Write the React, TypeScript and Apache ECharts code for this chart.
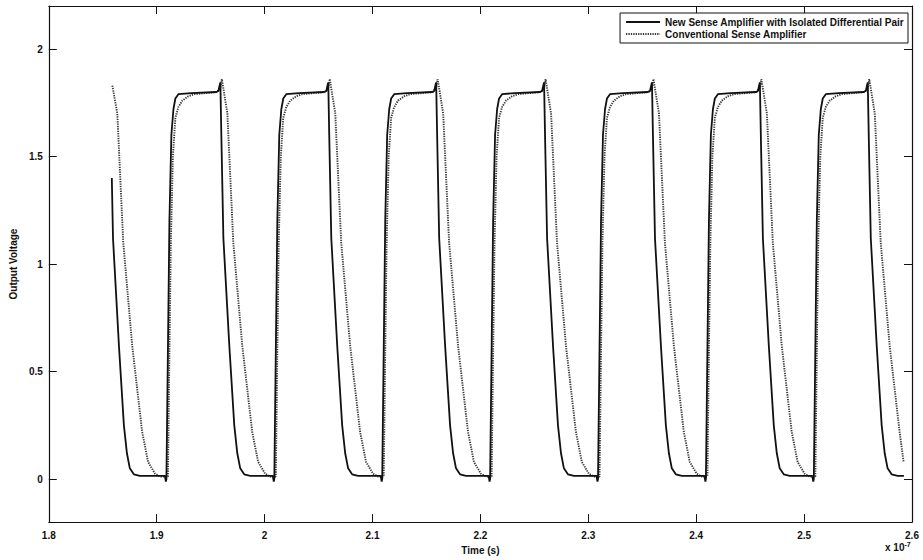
import React, { useEffect, useRef } from "react";
import * as echarts from "echarts";

// Time axis in units of 1e-7 s, voltage in V
const xTicks = [1.8, 1.9, 2.0, 2.1, 2.2, 2.3, 2.4, 2.5, 2.6];
const yTicks = [0, 0.5, 1, 1.5, 2];

const seriesNames = [
  "New Sense Amplifier with Isolated Differential Pair",
  "Conventional Sense Amplifier",
];

// New sense amplifier (solid line)
const newSenseStart: number[][] = [
  [1.8584, 1.4], [1.8595, 1.12], [1.865, 0.62], [1.8696, 0.25], [1.8724, 0.12],
  [1.8751, 0.05], [1.8788, 0.022], [1.8844, 0.015],
];
const newSenseCycles: number[][][] = [
  [[1.9076, 0.015], [1.9085, -0.012], [1.909, 0], [1.9104, 0.6], [1.9118, 1.2], [1.9136, 1.6], [1.9155, 1.72], [1.9173, 1.77], [1.9201, 1.79], [1.932, 1.795],
   [1.9553, 1.8], [1.9572, 1.805], [1.9583, 1.83], [1.959, 1.845], [1.9599, 1.6], [1.9618, 1.12], [1.9673, 0.62], [1.9719, 0.25], [1.9747, 0.12], [1.9774, 0.05], [1.9811, 0.022], [1.9867, 0.015]],
  [[2.0076, 0.015], [2.0085, -0.012], [2.009, 0], [2.0104, 0.6], [2.0118, 1.2], [2.0136, 1.6], [2.0155, 1.72], [2.0173, 1.77], [2.0201, 1.79], [2.032, 1.795],
   [2.0553, 1.8], [2.0572, 1.805], [2.0583, 1.83], [2.059, 1.845], [2.0599, 1.6], [2.0618, 1.12], [2.0673, 0.62], [2.0719, 0.25], [2.0747, 0.12], [2.0774, 0.05], [2.0811, 0.022], [2.0867, 0.015]],
  [[2.1076, 0.015], [2.1085, -0.012], [2.109, 0], [2.1104, 0.6], [2.1118, 1.2], [2.1136, 1.6], [2.1155, 1.72], [2.1173, 1.77], [2.1201, 1.79], [2.132, 1.795],
   [2.1553, 1.8], [2.1572, 1.805], [2.1583, 1.83], [2.159, 1.845], [2.1599, 1.6], [2.1618, 1.12], [2.1673, 0.62], [2.1719, 0.25], [2.1747, 0.12], [2.1774, 0.05], [2.1811, 0.022], [2.1867, 0.015]],
  [[2.2076, 0.015], [2.2085, -0.012], [2.209, 0], [2.2104, 0.6], [2.2118, 1.2], [2.2136, 1.6], [2.2155, 1.72], [2.2173, 1.77], [2.2201, 1.79], [2.232, 1.795],
   [2.2553, 1.8], [2.2572, 1.805], [2.2583, 1.83], [2.259, 1.845], [2.2599, 1.6], [2.2618, 1.12], [2.2673, 0.62], [2.2719, 0.25], [2.2747, 0.12], [2.2774, 0.05], [2.2811, 0.022], [2.2867, 0.015]],
  [[2.3076, 0.015], [2.3085, -0.012], [2.309, 0], [2.3104, 0.6], [2.3118, 1.2], [2.3136, 1.6], [2.3155, 1.72], [2.3173, 1.77], [2.3201, 1.79], [2.332, 1.795],
   [2.3553, 1.8], [2.3572, 1.805], [2.3583, 1.83], [2.359, 1.845], [2.3599, 1.6], [2.3618, 1.12], [2.3673, 0.62], [2.3719, 0.25], [2.3747, 0.12], [2.3774, 0.05], [2.3811, 0.022], [2.3867, 0.015]],
  [[2.4076, 0.015], [2.4085, -0.012], [2.409, 0], [2.4104, 0.6], [2.4118, 1.2], [2.4136, 1.6], [2.4155, 1.72], [2.4173, 1.77], [2.4201, 1.79], [2.432, 1.795],
   [2.4553, 1.8], [2.4572, 1.805], [2.4583, 1.83], [2.459, 1.845], [2.4599, 1.6], [2.4618, 1.12], [2.4673, 0.62], [2.4719, 0.25], [2.4747, 0.12], [2.4774, 0.05], [2.4811, 0.022], [2.4867, 0.015]],
  [[2.5076, 0.015], [2.5085, -0.012], [2.509, 0], [2.5104, 0.6], [2.5118, 1.2], [2.5136, 1.6], [2.5155, 1.72], [2.5173, 1.77], [2.5201, 1.79], [2.532, 1.795],
   [2.5553, 1.8], [2.5572, 1.805], [2.5583, 1.83], [2.559, 1.845], [2.5599, 1.6], [2.5618, 1.12], [2.5673, 0.62], [2.5719, 0.25], [2.5747, 0.12], [2.5774, 0.05], [2.5811, 0.022], [2.5867, 0.015], [2.5925, 0.015]],
];

// Conventional sense amplifier (dotted line)
const convStart: number[][] = [
  [1.8589, 1.83], [1.8635, 1.7], [1.869, 1.1], [1.8773, 0.62], [1.8865, 0.22],
  [1.892, 0.08], [1.8985, 0.025], [1.9031, 0.012],
];
const convCycles: number[][][] = [
  [[1.9104, 0.012], [1.9118, 0.6], [1.9131, 1.1], [1.915, 1.5], [1.9173, 1.68], [1.9201, 1.73], [1.9237, 1.76], [1.9293, 1.78], [1.9348, 1.79],
   [1.956, 1.8], [1.959, 1.82], [1.9604, 1.86], [1.9655, 1.7], [1.971, 1.1], [1.9793, 0.62], [1.9885, 0.22], [1.994, 0.08], [2.0005, 0.025], [2.0051, 0.012]],
  [[2.0104, 0.012], [2.0118, 0.6], [2.0131, 1.1], [2.015, 1.5], [2.0173, 1.68], [2.0201, 1.73], [2.0237, 1.76], [2.0293, 1.78], [2.0348, 1.79],
   [2.056, 1.8], [2.059, 1.82], [2.0604, 1.86], [2.0655, 1.7], [2.071, 1.1], [2.0793, 0.62], [2.0885, 0.22], [2.094, 0.08], [2.1005, 0.025], [2.1051, 0.012]],
  [[2.1104, 0.012], [2.1118, 0.6], [2.1131, 1.1], [2.115, 1.5], [2.1173, 1.68], [2.1201, 1.73], [2.1237, 1.76], [2.1293, 1.78], [2.1348, 1.79],
   [2.156, 1.8], [2.159, 1.82], [2.1604, 1.86], [2.1655, 1.7], [2.171, 1.1], [2.1793, 0.62], [2.1885, 0.22], [2.194, 0.08], [2.2005, 0.025], [2.2051, 0.012]],
  [[2.2104, 0.012], [2.2118, 0.6], [2.2131, 1.1], [2.215, 1.5], [2.2173, 1.68], [2.2201, 1.73], [2.2237, 1.76], [2.2293, 1.78], [2.2348, 1.79],
   [2.256, 1.8], [2.259, 1.82], [2.2604, 1.86], [2.2655, 1.7], [2.271, 1.1], [2.2793, 0.62], [2.2885, 0.22], [2.294, 0.08], [2.3005, 0.025], [2.3051, 0.012]],
  [[2.3104, 0.012], [2.3118, 0.6], [2.3131, 1.1], [2.315, 1.5], [2.3173, 1.68], [2.3201, 1.73], [2.3237, 1.76], [2.3293, 1.78], [2.3348, 1.79],
   [2.356, 1.8], [2.359, 1.82], [2.3604, 1.86], [2.3655, 1.7], [2.371, 1.1], [2.3793, 0.62], [2.3885, 0.22], [2.394, 0.08], [2.4005, 0.025], [2.4051, 0.012]],
  [[2.4104, 0.012], [2.4118, 0.6], [2.4131, 1.1], [2.415, 1.5], [2.4173, 1.68], [2.4201, 1.73], [2.4237, 1.76], [2.4293, 1.78], [2.4348, 1.79],
   [2.456, 1.8], [2.459, 1.82], [2.4604, 1.86], [2.4655, 1.7], [2.471, 1.1], [2.4793, 0.62], [2.4885, 0.22], [2.494, 0.08], [2.5005, 0.025], [2.5051, 0.012]],
  [[2.5104, 0.012], [2.5118, 0.6], [2.5131, 1.1], [2.515, 1.5], [2.5173, 1.68], [2.5201, 1.73], [2.5237, 1.76], [2.5293, 1.78], [2.5348, 1.79],
   [2.556, 1.8], [2.559, 1.82], [2.5604, 1.86], [2.5655, 1.7], [2.571, 1.1], [2.5793, 0.62], [2.5885, 0.22], [2.5922, 0.08]],
];

const FONT = "'Liberation Sans', Arial, Helvetica, sans-serif";

export default function App() {
  const ref = useRef<HTMLDivElement>(null);

  useEffect(() => {
    if (!ref.current) return;
    const chart = echarts.init(ref.current, null, { renderer: "svg" });

    const newSenseData = newSenseStart.concat(...newSenseCycles);
    const convData = convStart.concat(...convCycles);

    const tickStyle = { show: true, inside: true, length: 8, lineStyle: { color: "#111", width: 1 } };
    const axisLineStyle = { show: true, onZero: false, lineStyle: { color: "#111", width: 1.2 } };
    const labelFont = { fontSize: 10, fontWeight: "bold", fontFamily: FONT, color: "#111" };

    chart.setOption({
      animation: false,
      backgroundColor: "#ffffff",
      grid: { left: 44, right: 11, top: 6, bottom: 33, containLabel: false },
      legend: {
        orient: "vertical",
        right: 15,
        top: 13,
        itemWidth: 34,
        itemHeight: 10,
        itemGap: 2,
        padding: [4, 4, 4, 5],
        borderColor: "#111",
        borderWidth: 1,
        backgroundColor: "#ffffff",
        itemStyle: { opacity: 0, borderWidth: 0 },
        textStyle: labelFont,
        data: seriesNames,
      },
      xAxis: [
        {
          type: "value",
          min: 1.8,
          max: 2.6,
          interval: 0.1,
          position: "bottom",
          name: "Time (s)",
          nameLocation: "middle",
          nameGap: 18,
          nameTextStyle: labelFont,
          axisLine: axisLineStyle,
          axisTick: { ...tickStyle, customValues: xTicks },
          axisLabel: { ...labelFont, customValues: xTicks, margin: 8 },
          splitLine: { show: false },
        },
        {
          type: "value",
          min: 1.8,
          max: 2.6,
          interval: 0.1,
          position: "top",
          axisLine: axisLineStyle,
          axisTick: { ...tickStyle, customValues: xTicks },
          axisLabel: { show: false },
          splitLine: { show: false },
        },
      ],
      yAxis: [
        {
          type: "value",
          min: -0.2,
          max: 2.2,
          position: "left",
          name: "Output Voltage",
          nameLocation: "middle",
          nameGap: 29,
          nameRotate: 90,
          nameTextStyle: labelFont,
          axisLine: axisLineStyle,
          axisTick: { ...tickStyle, customValues: yTicks },
          axisLabel: { ...labelFont, customValues: yTicks, margin: 6 },
          splitLine: { show: false },
        },
        {
          type: "value",
          min: -0.2,
          max: 2.2,
          position: "right",
          axisLine: axisLineStyle,
          axisTick: { ...tickStyle, customValues: yTicks },
          axisLabel: { show: false },
          splitLine: { show: false },
        },
      ],
      graphic: [
        {
          type: "text",
          left: 885,
          top: 541,
          style: {
            text: "x 10{sup|-7}",
            rich: {
              sup: { fontSize: 7, fontWeight: "bold", fontFamily: FONT, fill: "#111", verticalAlign: "top", padding: [0, 0, 5, 0] },
            },
            font: `bold 10px ${FONT}`,
            fill: "#111",
          },
        },
      ],
      series: [
        {
          name: seriesNames[0],
          type: "line",
          xAxisIndex: 0,
          yAxisIndex: 0,
          data: newSenseData,
          symbol: "none",
          showSymbol: false,
          z: 3,
          color: "#111",
          lineStyle: { color: "#111", width: 1.8, type: "solid" },
        },
        {
          name: seriesNames[1],
          type: "line",
          xAxisIndex: 0,
          yAxisIndex: 0,
          data: convData,
          symbol: "none",
          showSymbol: false,
          z: 2,
          color: "#3a3a3a",
          lineStyle: { color: "#3a3a3a", width: 1.9, type: [1.3, 1.1] },
        },
      ],
    });

    return () => chart.dispose();
  }, []);

  return (
    <div
      ref={ref}
      style={{ position: "fixed", left: 0, top: 0, width: 923, height: 560, background: "#fff" }}
    />
  );
}
